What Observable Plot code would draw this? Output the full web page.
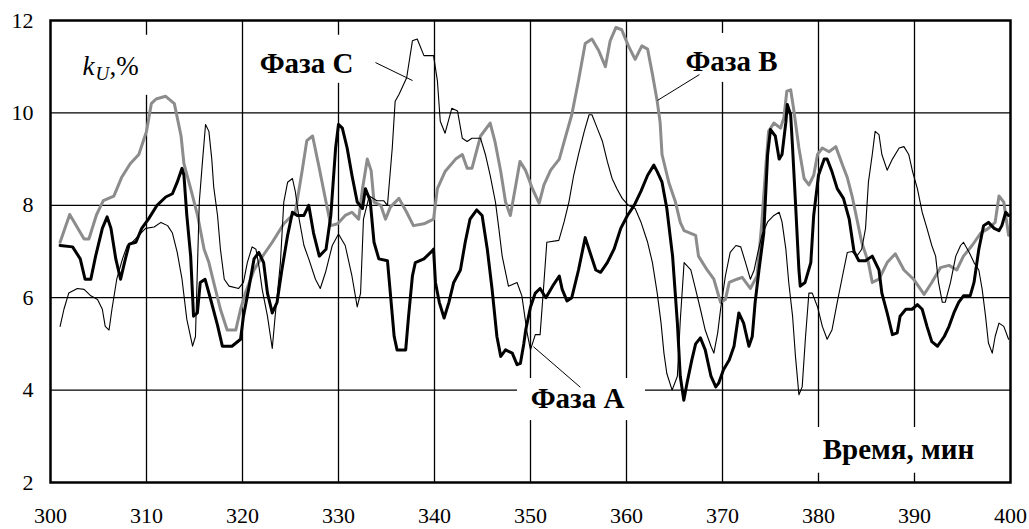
<!DOCTYPE html>
<html><head><meta charset="utf-8">
<script src="https://cdn.jsdelivr.net/npm/d3@7"></script>
<script src="https://cdn.jsdelivr.net/npm/@observablehq/plot@0.6"></script>
<style>body{margin:0;background:#fff}#chart svg{display:block}</style>
</head><body><div id="chart"></div>
<script>
const xTicks = [300,310,320,330,340,350,360,370,380,390,400];
const yTicks = [2,4,6,8,10,12];

// Фаза А (thick black)
const timeA = [301.0,302.3,303.1,303.6,304.2,304.7,305.4,305.9,306.3,306.8,307.3,307.8,308.2,308.9,309.5,310.2,311.1,312.0,312.7,313.2,313.7,313.9,314.2,314.6,314.9,315.3,315.6,316.1,316.7,317.4,317.9,318.9,319.8,320.1,320.7,321.2,321.7,322.2,322.6,323.1,323.6,324.1,324.7,325.2,325.7,326.4,326.9,327.4,328.0,328.7,329.2,329.7,330.0,330.4,330.9,331.4,331.95,332.5,332.8,333.3,333.7,334.2,335.1,335.4,335.8,336.1,337.0,337.3,337.7,338.0,338.9,339.6,339.9,340.1,340.5,341.0,341.5,342.0,342.7,343.2,343.7,344.4,344.96,345.5,346.0,346.5,346.9,347.4,348.1,348.6,348.95,349.3,349.5,350.0,350.5,351.0,351.6,352.3,353.0,353.3,353.8,354.3,355.0,355.7,356.2,356.8,357.3,358.0,358.7,359.4,360.1,360.8,361.5,362.2,362.85,363.2,363.7,364.2,364.8,365.3,365.6,365.97,366.3,366.8,367.2,367.7,368.2,368.8,369.3,369.6,370.1,370.7,371.2,371.7,372.2,372.75,373.1,373.4,373.8,374.3,374.7,375.0,375.5,375.9,376.2,376.6,376.75,377.1,377.3,377.6,377.96,378.1,378.6,379.2,379.5,380.0,380.6,380.9,381.4,381.95,382.6,383.2,383.7,384.2,384.9,385.6,386.3,386.6,387.15,387.7,388.2,388.5,389.1,389.75,390.3,390.8,391.3,391.8,392.4,393.1,393.6,394.1,394.6,395.1,395.8,396.2,396.7,397.2,397.7,398.3,398.8,399.1,399.5,399.8];
const kA = [7.13,7.1,6.84,6.4,6.4,6.9,7.5,7.75,7.5,6.84,6.4,6.84,7.16,7.2,7.5,7.7,8.0,8.18,8.25,8.5,8.8,8.65,7.78,6.9,5.6,5.67,6.33,6.4,5.95,5.4,4.95,4.95,5.1,5.6,6.25,6.84,6.98,6.76,6.1,5.67,5.9,6.6,7.35,7.85,7.78,7.78,8.0,7.4,6.9,7.05,7.78,9.24,9.75,9.67,9.24,8.65,8.07,7.93,8.36,8.1,7.2,6.84,6.8,6.1,5.16,4.87,4.87,5.6,6.47,6.76,6.84,6.98,7.05,6.33,5.9,5.56,5.9,6.33,6.6,7.2,7.7,7.9,7.78,7.05,6.18,5.16,4.73,4.87,4.8,4.55,4.58,5.0,5.3,5.8,6.1,6.2,6.0,6.25,6.47,6.18,5.93,6.0,6.6,7.3,6.98,6.6,6.55,6.76,7.05,7.5,7.78,8.0,8.3,8.65,8.87,8.73,8.5,7.93,6.9,5.45,4.3,3.78,4.15,4.65,5.0,5.13,4.87,4.3,4.07,4.15,4.44,4.65,4.95,5.67,5.45,4.95,5.16,5.9,6.6,7.4,9.1,9.64,9.5,9.0,9.1,9.8,10.18,9.96,9.24,8.07,6.6,6.25,6.33,6.76,7.78,8.65,9.0,9.0,8.73,8.36,8.15,7.7,7.0,6.8,6.8,6.9,6.6,6.1,5.67,5.2,5.24,5.6,5.75,5.75,5.85,5.75,5.38,5.05,4.95,5.16,5.38,5.67,5.9,6.04,6.04,6.33,7.05,7.56,7.63,7.5,7.45,7.56,7.85,7.78];

// Фаза В (thick grey)
const timeB = [301.0,302.0,303.5,304.0,304.8,305.5,306.6,307.4,308.3,309.2,310.0,310.5,311.0,312.0,312.9,313.6,313.9,314.6,315.3,316.0,316.5,317.0,317.7,318.4,319.3,319.8,320.3,321.2,321.9,323.1,324.3,325.5,326.2,326.7,327.3,328.0,328.7,329.2,329.9,330.7,331.4,332.1,332.5,333.0,333.4,333.7,334.4,334.9,335.4,336.3,337.1,337.8,338.9,339.9,340.3,341.1,342.2,342.9,343.4,343.9,344.8,345.8,346.3,346.9,347.4,347.9,348.4,348.9,349.5,350.2,350.9,351.4,352.1,353.0,353.6,354.3,355.0,355.7,356.4,357.1,357.8,358.3,358.9,359.5,360.2,360.9,361.6,362.2,362.7,363.2,363.5,363.7,364.4,365.1,365.6,366.0,367.2,367.5,368.4,369.1,369.8,370.3,370.7,371.5,372.05,372.9,373.6,374.1,374.5,374.8,375.35,376.05,376.4,376.7,377.1,377.4,377.96,378.5,379.0,379.5,379.9,380.4,381.1,381.8,382.5,383.0,383.5,383.9,384.5,385.2,385.6,386.3,387.15,388.0,388.9,389.9,391.0,391.8,392.7,393.6,394.4,395.1,396.0,396.9,397.7,398.4,398.8,399.3,399.8];
const kB = [7.2,7.8,7.27,7.27,7.8,8.1,8.2,8.6,8.9,9.1,9.6,10.2,10.3,10.36,10.2,9.5,8.9,8.36,7.8,7.05,6.76,6.33,5.75,5.3,5.3,5.75,6.1,6.6,6.84,7.2,7.6,7.85,8.73,9.4,9.5,8.8,8.07,7.56,7.6,7.78,7.85,7.7,8.36,9.0,8.75,8.07,8.0,7.7,7.96,8.15,7.85,7.56,7.6,7.7,8.36,8.73,9.0,9.1,8.8,8.8,9.5,9.78,9.38,8.73,8.07,7.78,8.36,8.95,8.75,8.36,8.04,8.44,8.76,9.0,9.45,9.96,10.7,11.5,11.6,11.35,11.0,11.56,11.85,11.8,11.45,11.16,11.45,11.38,10.84,10.25,9.8,9.1,8.5,8.07,7.63,7.45,7.35,6.9,6.6,6.4,5.9,5.96,6.33,6.4,6.44,6.2,6.47,7.63,8.8,9.6,9.78,9.67,9.9,10.47,10.5,10.1,9.24,8.58,8.44,8.65,9.1,9.24,9.16,9.27,8.87,8.6,8.2,7.8,7.2,6.76,6.33,6.4,6.76,6.95,6.6,6.4,6.07,6.33,6.65,6.7,6.6,6.9,7.13,7.4,7.5,7.63,8.2,8.07,7.35];

// Фаза С (thin black)
const timeC = [301.0,301.4,301.9,302.8,303.5,304.2,304.9,305.4,305.7,306.1,306.4,306.9,307.5,308.0,308.5,309.2,309.9,310.8,311.5,312.2,312.7,313.2,313.7,314.2,314.8,315.1,315.5,315.8,316.15,316.5,316.8,317.0,317.4,317.7,318.1,318.6,319.6,320.1,320.5,321.0,321.4,321.7,322.05,322.6,323.1,323.4,323.95,324.3,324.7,325.2,325.5,325.9,326.4,326.9,327.6,328.1,328.65,329.35,330.0,330.7,331.4,331.95,332.3,332.6,333.2,334.0,334.7,335.1,335.6,335.9,336.3,337.1,337.7,338.2,338.9,339.9,340.3,340.6,341.1,341.8,342.4,342.9,343.4,343.9,344.8,345.3,345.8,346.35,346.7,347.05,347.7,348.6,349.1,349.65,350.0,350.5,351.0,351.4,351.7,352.95,353.5,354.0,354.5,355.0,355.6,356.1,356.4,356.95,357.5,358.0,358.5,359.0,359.55,360.2,360.9,361.5,362.2,362.7,363.2,363.6,363.9,364.2,364.75,365.3,365.6,366.0,366.7,367.2,367.7,368.2,368.8,369.1,369.5,369.8,370.3,370.8,371.4,371.9,372.4,372.9,373.3,373.6,374.1,374.7,375.35,375.9,376.2,376.6,376.9,377.3,377.6,377.96,378.3,378.65,379.0,379.35,379.9,380.4,380.9,381.4,381.95,382.5,383.0,383.5,384.0,384.5,384.9,385.2,385.6,385.9,386.3,386.6,387.15,387.7,388.4,388.9,389.4,389.8,390.3,390.8,391.3,391.8,392.2,392.5,392.9,393.2,393.75,394.3,394.8,395.1,395.7,396.2,396.7,397.05,397.4,397.7,398.1,398.4,398.8,399.3,399.8];
const kC = [5.38,5.75,6.1,6.2,6.18,6.04,5.96,5.75,5.38,5.3,5.75,6.4,6.84,7.13,7.2,7.35,7.5,7.53,7.63,7.56,7.4,6.98,6.4,5.53,4.95,5.16,8.07,8.87,9.75,9.6,9.0,8.4,7.78,7.05,6.4,6.25,6.2,6.33,6.76,7.1,7.05,6.7,6.18,5.6,4.9,5.6,6.76,8.07,8.5,8.58,8.3,7.7,7.13,6.84,6.4,6.2,6.55,7.13,7.38,7.13,6.47,5.8,6.1,7.7,8.2,8.1,8.1,8.0,9.24,10.25,10.4,10.76,11.56,11.6,11.24,11.24,10.7,9.82,9.56,10.1,10.04,9.45,9.38,9.45,9.45,9.1,8.65,8.07,7.5,6.9,6.25,6.33,6.04,5.24,4.87,5.2,5.2,6.33,7.2,7.24,7.64,8.07,8.65,9.1,9.6,9.96,9.96,9.67,9.38,8.95,8.58,8.36,8.15,8.0,7.93,7.64,7.2,6.76,6.1,5.45,4.8,4.36,4.0,4.3,5.5,6.76,6.6,6.18,5.75,5.3,4.95,4.8,5.24,5.75,6.47,6.98,7.13,7.1,6.76,6.4,6.6,6.9,7.35,7.64,7.78,7.85,7.64,7.05,6.33,5.6,4.73,3.9,4.07,5.16,6.1,6.1,5.8,5.38,5.1,5.3,5.9,6.47,6.98,7.0,6.9,7.05,7.5,8.5,9.1,9.6,9.53,9.1,8.76,9.0,9.24,9.27,9.1,8.73,8.36,7.85,7.5,7.13,6.9,6.33,5.9,5.9,6.33,6.9,7.13,7.2,6.98,6.76,6.6,6.18,5.6,5.02,4.8,5.16,5.45,5.38,5.1];

const rows = (t, k) => t.map((x, i) => ({t: x, k: k[i]}));
const A = rows(timeA, kA), B = rows(timeB, kB), C = rows(timeC, kC);

const serif = "'Liberation Serif', 'Times New Roman', serif";
const box = (x1, x2, y1, y2) => Plot.rect([0], {x1, x2, y1, y2, fill: "white"});
const label = (text, x, y, opts = {}) =>
  Plot.text([text], {x, y, text: d => d, fontFamily: serif, fontSize: 29, fontWeight: "bold", fill: "black", ...opts});
const leader = (x1, y1, x2, y2) => Plot.link([0], {x1, y1, x2, y2, stroke: "black", strokeWidth: 1});

const chart = Plot.plot({
  width: 1029, height: 529,
  marginLeft: 50, marginRight: 19, marginTop: 20, marginBottom: 47,
  style: {fontFamily: serif, background: "white", color: "black"},
  x: {domain: [300, 400]},
  y: {domain: [2, 12]},
  marks: [
    Plot.ruleX(xTicks.slice(1, -1), {stroke: "black", strokeWidth: 1.3}),
    Plot.ruleY(yTicks.slice(1, -1), {stroke: "black", strokeWidth: 1.3}),
    box(302.6, 310.6, 11.68, 10.38),
    box(320.8, 332.9, 11.68, 10.64),
    box(365.1, 377.1, 11.72, 10.66),
    box(348.65, 361.98, 4.25, 3.34),
    box(378.65, 397.9, 3.19, 2.2),
    Plot.line(B, {x: "t", y: "k", stroke: "#8c8c8c", strokeWidth: 3, strokeLinejoin: "round"}),
    Plot.line(A, {x: "t", y: "k", stroke: "black", strokeWidth: 3, strokeLinejoin: "round"}),
    Plot.line(C, {x: "t", y: "k", stroke: "black", strokeWidth: 1.1, strokeLinejoin: "round"}),
    leader(333.85, 11.09, 337.71, 10.70),
    leader(367.6, 10.83, 363.23, 10.27),
    leader(355.2, 4.06, 350.3, 4.94),
    label("Фаза С", 326.67, 11.07),
    label("Фаза В", 370.94, 11.11),
    label("Фаза А", 354.9, 3.82),
    label("Время, мин", 388.33, 2.71),
    Plot.text(["k"], {x: 303.33, y: 11.0, text: d => d, textAnchor: "start", fontFamily: serif, fontStyle: "italic", fontSize: 27}),
    Plot.text(["U"], {x: 303.33, y: 11.0, dx: 13, dy: 7, text: d => d, textAnchor: "start", fontFamily: serif, fontStyle: "italic", fontSize: 19}),
    Plot.text([",%"], {x: 303.33, y: 11.0, dx: 27, text: d => d, textAnchor: "start", fontFamily: serif, fontSize: 27}),
    Plot.frame({stroke: "black", strokeWidth: 2.5}),
    Plot.axisX(xTicks, {tickSize: 0, tickPadding: 25, fontSize: 22, fontFamily: serif, label: null}),
    Plot.axisY(yTicks, {tickSize: 0, tickPadding: 17, fontSize: 22, fontFamily: serif, label: null})
  ]
});
document.getElementById("chart").appendChild(chart);
</script>
</body></html>
